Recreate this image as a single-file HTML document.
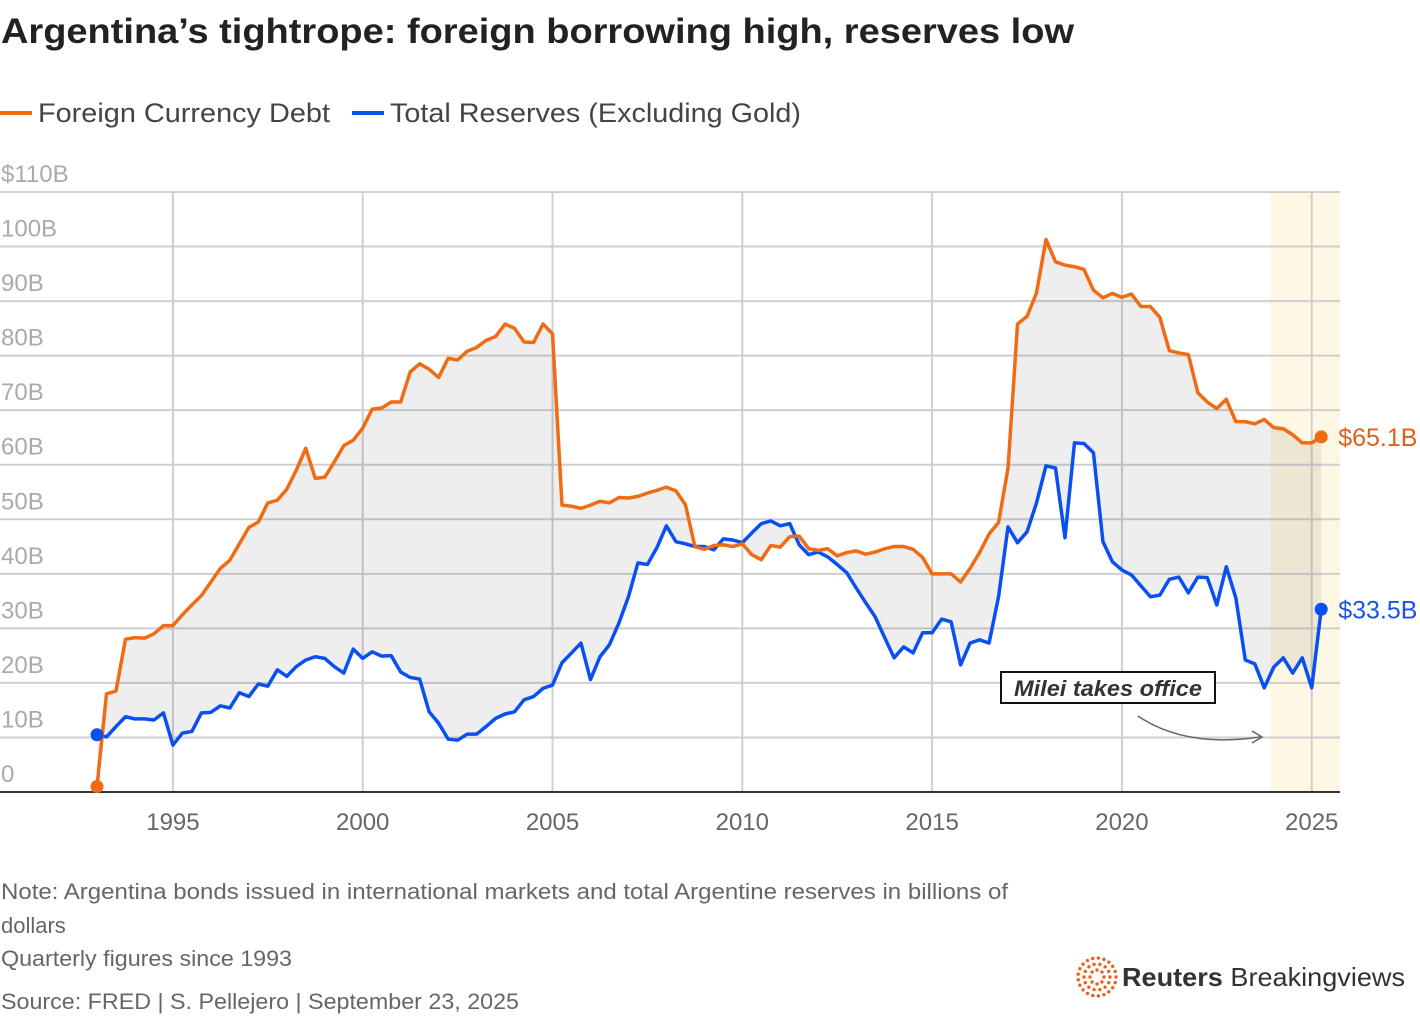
<!DOCTYPE html>
<html><head><meta charset="utf-8"><style>
html,body{margin:0;padding:0;background:#fff;}
svg{display:block;font-family:"Liberation Sans",sans-serif;}
</style></head><body>
<svg id="chart" width="1420" height="1018" viewBox="0 0 1420 1018" xmlns="http://www.w3.org/2000/svg">
<text x="1" y="43" font-size="35" font-weight="bold" fill="#222" textLength="1073" lengthAdjust="spacingAndGlyphs">Argentina’s tightrope: foreign borrowing high, reserves low</text>
<g>
<line x1="0" y1="113" x2="32" y2="113" stroke="#f06b13" stroke-width="4"/>
<text x="38" y="122" font-size="27" fill="#444" textLength="292" lengthAdjust="spacingAndGlyphs">Foreign Currency Debt</text>
<line x1="352" y1="113" x2="384" y2="113" stroke="#0a50f0" stroke-width="4"/>
<text x="390" y="122" font-size="27" fill="#444" textLength="411" lengthAdjust="spacingAndGlyphs">Total Reserves (Excluding Gold)</text>
</g>
<rect x="1270" y="192" width="70" height="600" fill="#fdf7e3"/>
<g id="grid"></g>
<g id="yaxis"></g>
<g id="xaxis"></g>
<g id="series"></g>
<g>
<rect x="1001" y="672" width="214" height="31" fill="#fff" stroke="#111" stroke-width="2"/>
<text x="1108" y="696" font-size="22" font-weight="bold" font-style="italic" fill="#333" text-anchor="middle" textLength="188" lengthAdjust="spacingAndGlyphs">Milei takes office</text>
<path d="M1138 716 Q1185 748 1260 737" fill="none" stroke="#666" stroke-width="1.5"/>
<path d="M1252 731 L1262 737 L1252 743" fill="none" stroke="#666" stroke-width="1.5"/>
</g>
<g font-size="22" fill="#666">
<text x="1" y="899" textLength="1007" lengthAdjust="spacingAndGlyphs">Note: Argentina bonds issued in international markets and total Argentine reserves in billions of</text>
<text x="1" y="933">dollars</text>
<text x="1" y="966" textLength="291" lengthAdjust="spacingAndGlyphs">Quarterly figures since 1993</text>
<text x="1" y="1009" textLength="518" lengthAdjust="spacingAndGlyphs">Source: FRED | S. Pellejero | September 23, 2025</text>
</g>
<g>
<g id="logodots"></g>
<text x="1122" y="986" font-size="26" fill="#333" textLength="283" lengthAdjust="spacingAndGlyphs"><tspan font-weight="bold">Reuters</tspan> Breakingviews</text>
</g>
</svg>
<script>
const startYear = 1993;
const debtValues = [
1,18,18.5,28, 28.3,28.2,29,30.5, 30.5,32.5,34.3,36, 38.5,41,42.5,45.5,
48.5,49.5,53,53.5, 55.5,59,63,57.5, 57.7,60.5,63.5,64.5, 66.7,70.2,70.4,71.5,
71.5,77,78.5,77.5, 76,79.5,79.2,80.8, 81.5,82.8,83.5,85.8, 85,82.5,82.4,85.8,
84,52.6,52.4,52, 52.6,53.3,53,54, 53.9,54.2,54.8,55.3, 55.9,55.2,52.7,45,
44.5,45.2,45.3,45, 45.5,43.5,42.6,45.2, 44.9,46.8,46.9,44.6, 44.3,44.6,43.3,43.9,
44.2,43.6,44,44.6, 45,45,44.5,43, 40,40,40,38.5, 41,43.9,47.3,49.4,
59.4,85.8,87.2,91.5, 101.3,97.2,96.6,96.3, 95.8,92,90.6,91.4, 90.7,91.3,89,89,
87,80.9,80.5,80.2, 73.2,71.5,70.3,72, 67.9,67.9,67.5,68.3, 66.8,66.6,65.5,64,
64,65.1];
const reserveValues = [
10.5,10.1,12,13.8, 13.4,13.4,13.2,14.5, 8.6,10.8,11.1,14.5, 14.6,15.8,15.4,18.2,
17.5,19.8,19.4,22.4, 21.2,23,24.2,24.8, 24.5,23,21.8,26.2, 24.5,25.7,24.9,25,
22,21,20.7,14.7, 12.6,9.7,9.5,10.6, 10.6,12,13.5,14.3, 14.7,16.9,17.5,19,
19.6,23.7,25.5,27.3, 20.6,24.8,27,31, 35.8,42,41.7,44.8, 48.8,45.9,45.5,45,
45,44.4,46.4,46.2, 45.7,47.5,49.2,49.7, 48.8,49.2,45.3,43.5, 44,43.1,41.7,40.2,
37.4,34.7,32.1,28.3, 24.6,26.6,25.5,29.2, 29.2,31.7,31.2,23.3, 27.3,27.9,27.3,35.8,
48.6,45.7,47.7,53, 59.8,59.4,46.6,64, 63.9,62.2,45.9,42.2, 40.7,39.8,37.8,35.8,
36.1,39,39.4,36.5, 39.4,39.3,34.3,41.3, 35.6,24.2,23.5,19.1, 22.9,24.6,21.8,24.6,
19.1,33.5];
const yTicks = [0,10,20,30,40,50,60,70,80,90,100,110];
const yTickLabels = ["0","10B","20B","30B","40B","50B","60B","70B","80B","90B","100B","$110B"];
const xTicks = [1995,2000,2005,2010,2015,2020,2025];
const debtEndLabel = "$65.1B";
const reserveEndLabel = "$33.5B";

const NS = "http://www.w3.org/2000/svg";
function X(t){ return 97 + (t - startYear) * 37.96; }
function Y(v){ return 792 - v * 5.4545; }
function qx(i){ return X(startYear + i/4); }
function mk(tag, attrs, parent){ const e=document.createElementNS(NS,tag); for(const k in attrs) e.setAttribute(k,attrs[k]); parent.appendChild(e); return e; }

const grid=document.getElementById('grid'), ya=document.getElementById('yaxis'), xa=document.getElementById('xaxis'), ser=document.getElementById('series');
yTicks.forEach((v,i)=>{
  const l=mk('line',{x1:0,x2:1340,y1:Y(v),y2:Y(v),stroke:v===0?'#333':'#cfcfcf','stroke-width':v===0?2:2},grid);
  
  
  const t=mk('text',{x:1,y:Y(v)-10,'font-size':24,fill:'#aaa'},ya);
  t.textContent=yTickLabels[i];
  
  
});
xTicks.forEach(yr=>{
  const l=mk('line',{x1:X(yr),x2:X(yr),y1:192,y2:791,stroke:'#cfcfcf','stroke-width':2},grid);
  
  
  const t=mk('text',{x:X(yr),y:830,'font-size':24,fill:'#666','text-anchor':'middle'},xa);
  t.textContent=yr;
  
  
});
let fillPts=debtValues.map((v,i)=>qx(i)+','+Y(v));
for(let i=reserveValues.length-1;i>=0;i--) fillPts.push(qx(i)+','+Y(reserveValues[i]));
const area=mk('polygon',{points:fillPts.join(' '),fill:'rgba(0,0,0,0.065)'},ser);


function line(vals,color,name){
  const p=mk('polyline',{points:vals.map((v,i)=>qx(i)+','+Y(v)).join(' '),fill:'none',stroke:color,'stroke-width':3.5,'stroke-linejoin':'round'},ser);
  
  
}
line(reserveValues,'#0a50f0','reserves-line');
line(debtValues,'#f06b13','debt-line');
function dot(i,v,color,name){
  const c=mk('circle',{cx:qx(i),cy:Y(v),r:6.5,fill:color},ser);
  
  
}
dot(0,debtValues[0],'#f06b13','debt-start-point');
dot(0,reserveValues[0],'#0a50f0','reserves-start-point');
const nD=debtValues.length-1, nR=reserveValues.length-1;
dot(nD,debtValues[nD],'#f06b13','debt-end-point');
dot(nR,reserveValues[nR],'#0a50f0','reserves-end-point');
const t1=mk('text',{x:qx(nD)+17,y:Y(debtValues[nD])+9,'font-size':25,fill:'#e0601a'},ser);
t1.textContent=debtEndLabel;


const t2=mk('text',{x:qx(nR)+17,y:Y(reserveValues[nR])+9,'font-size':25,fill:'#1a55e0'},ser);
t2.textContent=reserveEndLabel;


const ld=document.getElementById('logodots');
for(let r of [7,13,19]){ const n=Math.round(r*1.1); for(let k=0;k<n;k++){ const a=k/n*Math.PI*2;
  const c=mk('circle',{cx:1097+r*Math.cos(a),cy:977+r*Math.sin(a),r:1.7,fill:'#e8601c'},ld);
  
  
}}
</script>
</body></html>
